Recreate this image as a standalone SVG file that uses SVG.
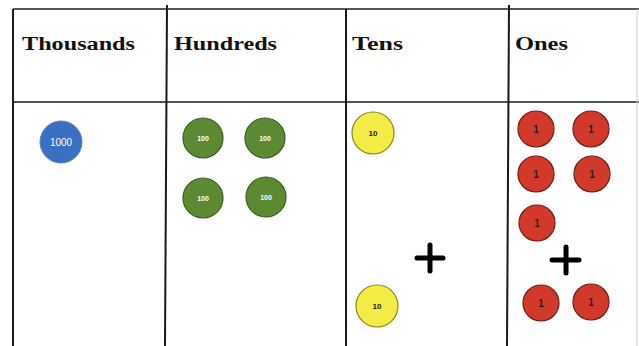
<svg xmlns="http://www.w3.org/2000/svg" width="639" height="346" viewBox="0 0 639 346">
<style>
.ln{stroke:#1a1a1a;stroke-width:2;fill:none}
.lg{stroke:#555;stroke-width:2;fill:none}
.hd{font-family:"Liberation Serif",serif;font-weight:bold;font-size:18px;fill:#111}
.b{fill:#3b6fc2;stroke:#5a7fc0;stroke-width:1}
.g{fill:#5b8a32;stroke:#3d5a25;stroke-width:1.2}
.y{fill:#f2ec45;stroke:#8a8420;stroke-width:1.2}
.r{fill:#d3392b;stroke:#6a2018;stroke-width:1.2}
.tw{font-family:"Liberation Sans",sans-serif;fill:#fff;text-anchor:middle}
.tk{font-family:"Liberation Sans",sans-serif;font-weight:bold;fill:#222;text-anchor:middle}
.pl{stroke:#000;stroke-width:5;stroke-linecap:round}
</style>
<rect width="639" height="346" fill="#fff"/>
<g id="grid">
<line class="lg" x1="13" y1="9" x2="639" y2="9"/>
<line class="lg" x1="13" y1="102" x2="639" y2="102"/>
<line class="ln" x1="13" y1="9" x2="13" y2="346"/>
<line class="ln" x1="167" y1="5" x2="165" y2="346"/>
<line class="ln" x1="346" y1="9" x2="346" y2="346"/>
<line class="ln" x1="509" y1="5" x2="507" y2="346"/>
<line stroke="#ccc" stroke-width="1" x1="637" y1="9" x2="637" y2="346"/>
</g>
<g id="headers">
<text class="hd" x="22" y="50" textLength="113" lengthAdjust="spacingAndGlyphs">Thousands</text>
<text class="hd" x="174" y="50" textLength="103" lengthAdjust="spacingAndGlyphs">Hundreds</text>
<text class="hd" x="352" y="50" textLength="51" lengthAdjust="spacingAndGlyphs">Tens</text>
<text class="hd" x="515" y="50" textLength="53" lengthAdjust="spacingAndGlyphs">Ones</text>
</g>
<g id="thousands">
<circle class="b" cx="61" cy="142" r="21"/>
<text class="tw" x="61" y="145.5" font-size="10">1000</text>
</g>
<g id="hundreds">
<circle class="g" cx="203" cy="138" r="20"/><text class="tw" x="203" y="140.5" font-size="7" font-weight="bold">100</text>
<circle class="g" cx="265" cy="138" r="20"/><text class="tw" x="265" y="140.5" font-size="7" font-weight="bold">100</text>
<circle class="g" cx="203" cy="198" r="20"/><text class="tw" x="203" y="200.5" font-size="7" font-weight="bold">100</text>
<circle class="g" cx="266" cy="197" r="20"/><text class="tw" x="266" y="199.5" font-size="7" font-weight="bold">100</text>
</g>
<g id="tens">
<circle class="y" cx="373" cy="133" r="21"/><text class="tk" x="373" y="136" font-size="8">10</text>
<circle class="y" cx="377" cy="306" r="21"/><text class="tk" x="377" y="309" font-size="8">10</text>
<path class="pl" d="M417 258H443M430 245V271"/>
</g>
<g id="ones">
<circle class="r" cx="536" cy="129" r="18"/><text class="tk" x="536" y="133" font-size="10">1</text>
<circle class="r" cx="591" cy="129" r="18"/><text class="tk" x="591" y="133" font-size="10">1</text>
<circle class="r" cx="536" cy="174" r="18"/><text class="tk" x="536" y="178" font-size="10">1</text>
<circle class="r" cx="592" cy="174" r="18"/><text class="tk" x="592" y="178" font-size="10">1</text>
<circle class="r" cx="537" cy="223" r="18"/><text class="tk" x="537" y="227" font-size="10">1</text>
<circle class="r" cx="541" cy="303" r="18"/><text class="tk" x="541" y="307" font-size="10">1</text>
<circle class="r" cx="591" cy="302" r="18"/><text class="tk" x="591" y="306" font-size="10">1</text>
<path class="pl" d="M552 260H579M566 247V273"/>
</g>
</svg>
